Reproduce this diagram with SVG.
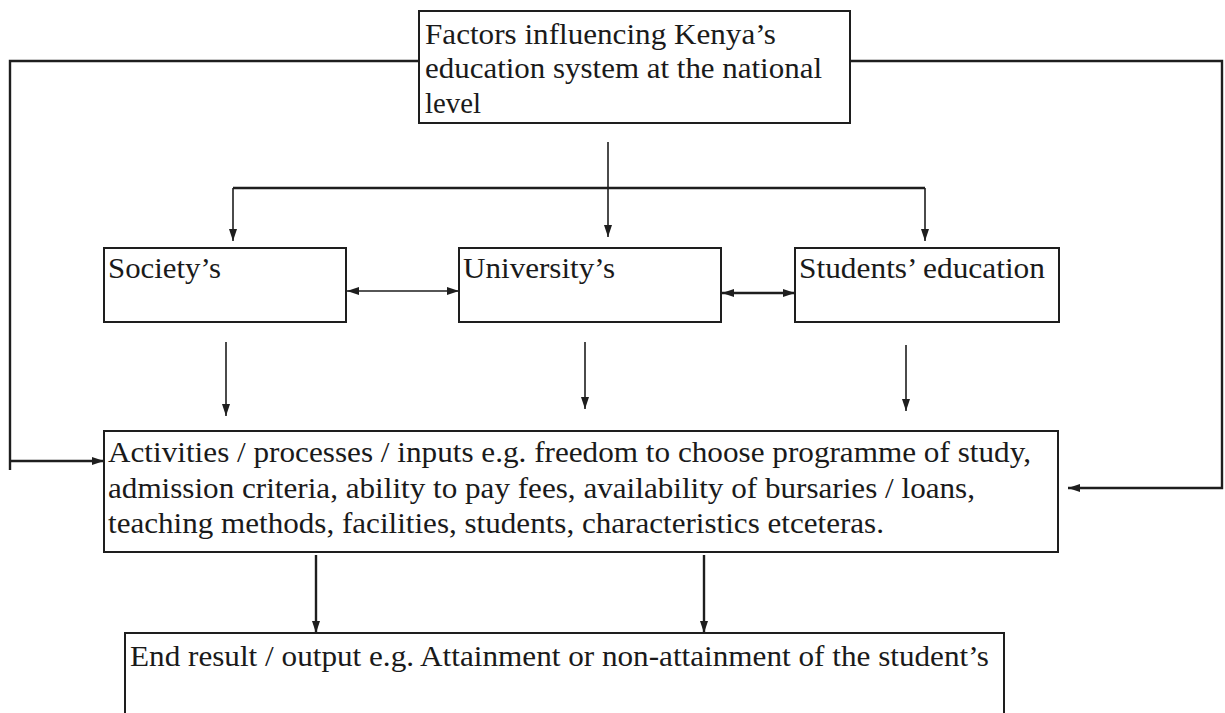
<svg xmlns="http://www.w3.org/2000/svg" width="1225" height="713" viewBox="0 0 1225 713">
<style>
.box{fill:#fff;stroke:#1e1e1e;stroke-width:2}
.t{font-family:"Liberation Serif","Times New Roman",serif;font-size:29px;fill:#1a1a1a}
.c{fill:none;stroke:#1e1e1e;stroke-width:2.4}
.a{fill:none;stroke:#1e1e1e;stroke-width:1.6}
</style>
<defs>
<marker id="ah" markerUnits="userSpaceOnUse" markerWidth="12" markerHeight="10" viewBox="0 0 12 10" refX="12" refY="5" orient="auto-start-reverse">
<path d="M0,1 L12,5 L0,9 Z" fill="#1e1e1e"/>
</marker>
</defs>
<rect width="1225" height="713" fill="#fff"/>
<g id="connectors">
<path class="c" d="M419,61 H10 V470"/>
<path class="c" d="M10,461 H104" marker-end="url(#ah)"/>
<path class="c" d="M850,61 H1222 V488 H1068" marker-end="url(#ah)"/>
<path class="a" d="M608,142 V237" marker-end="url(#ah)"/>
<path class="c" d="M233,188 H925"/>
<path class="a" d="M233,188 V241" marker-end="url(#ah)"/>
<path class="a" d="M925,188 V241" marker-end="url(#ah)"/>
<path class="a" d="M347,291 H459" marker-start="url(#ah)" marker-end="url(#ah)"/>
<path class="c" d="M722,293 H795" marker-start="url(#ah)" marker-end="url(#ah)"/>
<path class="a" d="M226,342 V416" marker-end="url(#ah)"/>
<path class="a" d="M585,342 V409" marker-end="url(#ah)"/>
<path class="a" d="M906,345 V411" marker-end="url(#ah)"/>
<path class="c" d="M316,555 V633" marker-end="url(#ah)"/>
<path class="c" d="M704,555 V633" marker-end="url(#ah)"/>
</g>
<g id="factors">
<rect class="box" x="419" y="11" width="431" height="112"/>
<text class="t" x="425" y="44" textLength="351" lengthAdjust="spacingAndGlyphs">Factors influencing Kenya’s</text>
<text class="t" x="425" y="78" textLength="397" lengthAdjust="spacingAndGlyphs">education system at the national</text>
<text class="t" x="425" y="113" textLength="56" lengthAdjust="spacingAndGlyphs">level</text>
</g>
<g id="society">
<rect class="box" x="104" y="248" width="242" height="74"/>
<text class="t" x="108" y="278" textLength="113" lengthAdjust="spacingAndGlyphs">Society’s</text>
</g>
<g id="university">
<rect class="box" x="459" y="248" width="262" height="74"/>
<text class="t" x="463" y="278" textLength="152" lengthAdjust="spacingAndGlyphs">University’s</text>
</g>
<g id="students">
<rect class="box" x="795" y="248" width="264" height="74"/>
<text class="t" x="799" y="278" textLength="246" lengthAdjust="spacingAndGlyphs">Students’ education</text>
</g>
<g id="activities">
<rect class="box" x="104" y="431" width="954" height="121"/>
<text class="t" x="108" y="462" textLength="923" lengthAdjust="spacingAndGlyphs">Activities / processes / inputs e.g. freedom to choose programme of study,</text>
<text class="t" x="108" y="498" textLength="867" lengthAdjust="spacingAndGlyphs">admission criteria, ability to pay fees, availability of bursaries / loans,</text>
<text class="t" x="108" y="533" textLength="776" lengthAdjust="spacingAndGlyphs">teaching methods, facilities, students, characteristics etceteras.</text>
</g>
<g id="endresult">
<path class="box" d="M125,720 V633 H1004 V720"/>
<text class="t" x="130" y="666" textLength="859" lengthAdjust="spacingAndGlyphs">End result / output e.g. Attainment or non-attainment of the student’s</text>
</g>
</svg>
